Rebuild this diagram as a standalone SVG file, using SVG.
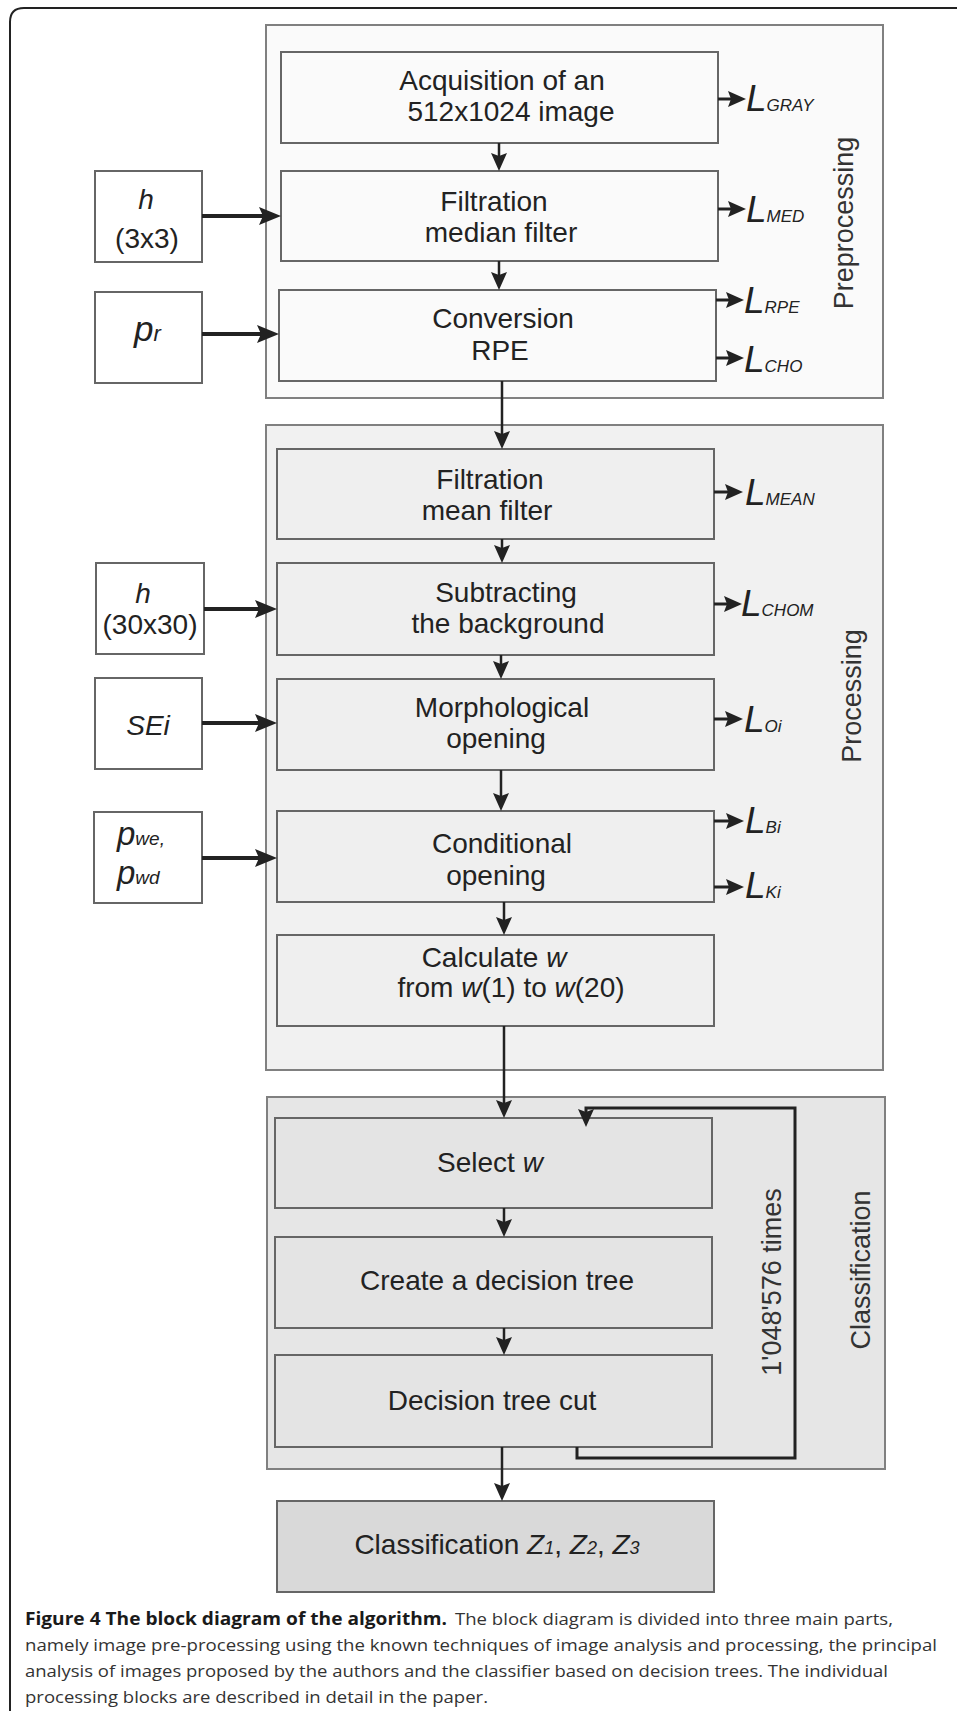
<svg xmlns="http://www.w3.org/2000/svg" width="957" height="1711" viewBox="0 0 957 1711">
<defs>
<style>
.t{font-family:"Liberation Sans",Arial,sans-serif;font-size:28px;fill:#222;text-anchor:middle}
.it{font-style:italic}
.lab{font-family:"Liberation Sans",Arial,sans-serif;font-style:italic;fill:#222}
.L{font-size:37px}
.s{font-size:17px}
.vt{font-family:"Liberation Sans",Arial,sans-serif;font-size:27px;fill:#333;text-anchor:middle}
.cont{stroke:#808080;stroke-width:2}
.box{stroke:#666;stroke-width:2}
.pre{fill:#fafafa}
.proc{fill:#f1f1f1}
.cls{fill:#e6e6e6}
.bproc{fill:#efefef}
.bcls{fill:#e4e4e4}
.fin{fill:#d9d9d9}
.in{fill:#fff}
.c{fill:none;stroke:#222;stroke-width:2.5}
.ci{fill:none;stroke:#222;stroke-width:4}
.co{fill:none;stroke:#222;stroke-width:3}
.cap{font-family:"Open Sans","Noto Sans",sans-serif;font-size:17px;fill:#333}
.capb{font-family:"Open Sans","Noto Sans",sans-serif;font-size:17px;font-weight:bold;fill:#1a1a1a}
</style>
<marker id="ah" markerUnits="userSpaceOnUse" viewBox="0 0 18 16" markerWidth="18" markerHeight="16" refX="10" refY="8" orient="auto">
<path d="M0,0 L18,8 L0,16 L3,8 Z" fill="#222"/>
</marker>
<marker id="ahl" markerUnits="userSpaceOnUse" viewBox="0 0 22 18" markerWidth="22" markerHeight="18" refX="12" refY="9" orient="auto">
<path d="M0,0 L22,9 L0,18 L4,9 Z" fill="#222"/>
</marker>
</defs>
<rect width="957" height="1711" fill="#fff"/>
<path d="M10,1711 V22 Q10,8 24,8 H957" fill="none" stroke="#222" stroke-width="2"/>

<g id="preprocessing">
<rect class="cont pre" x="266" y="25" width="617" height="373"/>
<text class="vt" transform="translate(853,223) rotate(-90)">Preprocessing</text>
</g>
<g id="processing">
<rect class="cont proc" x="266" y="425" width="617" height="645"/>
<text class="vt" transform="translate(861,696) rotate(-90)">Processing</text>
</g>
<g id="classification">
<rect class="cont cls" x="267" y="1097" width="618" height="372"/>
<text class="vt" transform="translate(870,1270) rotate(-90)">Classification</text>
</g>

<g id="acquisition">
<rect class="box pre" x="281" y="52" width="437" height="91"/>
<text class="t" x="502" y="90">Acquisition of an</text>
<text class="t" x="511" y="121">512x1024 image</text>
</g>
<g id="median">
<rect class="box pre" x="281" y="171" width="437" height="90"/>
<text class="t" x="494" y="211">Filtration</text>
<text class="t" x="501" y="242">median filter</text>
</g>
<g id="conversion">
<rect class="box pre" x="279" y="290" width="437" height="91"/>
<text class="t" x="503" y="328">Conversion</text>
<text class="t" x="500" y="360">RPE</text>
</g>
<g id="mean">
<rect class="box bproc" x="277" y="449" width="437" height="90"/>
<text class="t" x="490" y="489">Filtration</text>
<text class="t" x="487" y="520">mean filter</text>
</g>
<g id="subtract">
<rect class="box bproc" x="277" y="563" width="437" height="92"/>
<text class="t" x="506" y="602">Subtracting</text>
<text class="t" x="508" y="633">the background</text>
</g>
<g id="morph">
<rect class="box bproc" x="277" y="679" width="437" height="91"/>
<text class="t" x="502" y="717">Morphological</text>
<text class="t" x="496" y="748">opening</text>
</g>
<g id="conditional">
<rect class="box bproc" x="277" y="811" width="437" height="91"/>
<text class="t" x="502" y="853">Conditional</text>
<text class="t" x="496" y="885">opening</text>
</g>
<g id="calculate">
<rect class="box bproc" x="277" y="935" width="437" height="91"/>
<text class="t" x="494" y="967">Calculate <tspan class="it">w</tspan></text>
<text class="t" x="511" y="997">from <tspan class="it">w</tspan>(1) to <tspan class="it">w</tspan>(20)</text>
</g>
<g id="select">
<rect class="box bcls" x="275" y="1118" width="437" height="90"/>
<text class="t" x="490" y="1172">Select <tspan class="it">w</tspan></text>
</g>
<g id="create">
<rect class="box bcls" x="275" y="1237" width="437" height="91"/>
<text class="t" x="497" y="1290">Create a decision tree</text>
</g>
<g id="cut">
<rect class="box bcls" x="275" y="1355" width="437" height="92"/>
<text class="t" x="492" y="1410">Decision tree cut</text>
</g>
<g id="result">
<rect class="box fin" x="277" y="1501" width="437" height="91"/>
<text class="t" x="497" y="1554">Classification <tspan class="it">Z</tspan><tspan class="it" font-size="18">1</tspan>, <tspan class="it">Z</tspan><tspan class="it" font-size="18">2</tspan>, <tspan class="it">Z</tspan><tspan class="it" font-size="18">3</tspan></text>
</g>

<g id="in-h3">
<rect class="box in" x="95" y="171" width="107" height="91"/>
<text class="t it" x="146" y="209" font-size="31">h</text>
<text class="t" x="147" y="248" font-size="34">(3x3)</text>
</g>
<g id="in-pr">
<rect class="box in" x="95" y="292" width="107" height="91"/>
<text class="lab" x="134" y="341" font-size="35">p<tspan font-size="22">r</tspan></text>
</g>
<g id="in-h30">
<rect class="box in" x="96" y="563" width="108" height="91"/>
<text class="t it" x="143" y="603" font-size="31">h</text>
<text class="t" x="150" y="634" font-size="29">(30x30)</text>
</g>
<g id="in-sei">
<rect class="box in" x="95" y="678" width="107" height="91"/>
<text class="t it" x="148" y="735" font-size="32">SEi</text>
</g>
<g id="in-pw">
<rect class="box in" x="94" y="812" width="108" height="91"/>
<text class="lab" x="117" y="845" font-size="33">p<tspan font-size="19">we,</tspan></text>
<text class="lab" x="117" y="884" font-size="33">p<tspan font-size="19">wd</tspan></text>
</g>

<g id="out-labels">
<text class="lab" x="746" y="111"><tspan class="L">L</tspan><tspan class="s">GRAY</tspan></text>
<text class="lab" x="746" y="222"><tspan class="L">L</tspan><tspan class="s">MED</tspan></text>
<text class="lab" x="744" y="313"><tspan class="L">L</tspan><tspan class="s">RPE</tspan></text>
<text class="lab" x="744" y="372"><tspan class="L">L</tspan><tspan class="s">CHO</tspan></text>
<text class="lab" x="745" y="505"><tspan class="L">L</tspan><tspan class="s">MEAN</tspan></text>
<text class="lab" x="741" y="616"><tspan class="L">L</tspan><tspan class="s">CHOM</tspan></text>
<text class="lab" x="744" y="732"><tspan class="L">L</tspan><tspan class="s">Oi</tspan></text>
<text class="lab" x="745" y="833"><tspan class="L">L</tspan><tspan class="s">Bi</tspan></text>
<text class="lab" x="745" y="898"><tspan class="L">L</tspan><tspan class="s">Ki</tspan></text>
</g>

<g id="loop-label">
<text class="vt" transform="translate(781,1282) rotate(-90)">1'048'576 times</text>
</g>

<g id="connectors">
<path class="c" d="M499,143 V163" marker-end="url(#ah)"/>
<path class="c" d="M499,261 V282" marker-end="url(#ah)"/>
<path class="c" d="M502,381 V441" marker-end="url(#ah)"/>
<path class="c" d="M502,539 V555" marker-end="url(#ah)"/>
<path class="c" d="M501,655 V671" marker-end="url(#ah)"/>
<path class="c" d="M501,770 V803" marker-end="url(#ah)"/>
<path class="c" d="M504,902 V927" marker-end="url(#ah)"/>
<path class="c" d="M504,1026 V1110" marker-end="url(#ah)"/>
<path class="c" d="M504,1208 V1229" marker-end="url(#ah)"/>
<path class="c" d="M504,1328 V1347" marker-end="url(#ah)"/>
<path class="c" d="M502,1447 V1493" marker-end="url(#ah)"/>
<path class="co" d="M577,1447 V1458 H795 V1108 H586 V1119" marker-end="url(#ah)"/>
<path class="ci" d="M202,216 H271" marker-end="url(#ahl)"/>
<path class="ci" d="M202,334 H269" marker-end="url(#ahl)"/>
<path class="ci" d="M204,609 H267" marker-end="url(#ahl)"/>
<path class="ci" d="M202,723 H267" marker-end="url(#ahl)"/>
<path class="ci" d="M202,858 H267" marker-end="url(#ahl)"/>
<path class="co" d="M718,99 H738" marker-end="url(#ah)"/>
<path class="co" d="M718,209 H738" marker-end="url(#ah)"/>
<path class="co" d="M716,300 H736" marker-end="url(#ah)"/>
<path class="co" d="M716,358 H736" marker-end="url(#ah)"/>
<path class="co" d="M714,492 H735" marker-end="url(#ah)"/>
<path class="co" d="M714,604 H734" marker-end="url(#ah)"/>
<path class="co" d="M714,719 H735" marker-end="url(#ah)"/>
<path class="co" d="M714,821 H736" marker-end="url(#ah)"/>
<path class="co" d="M714,887 H736" marker-end="url(#ah)"/>
</g>

<g id="caption">
<text class="capb" x="25" y="1625" textLength="422" lengthAdjust="spacingAndGlyphs">Figure 4 The block diagram of the algorithm.</text>
<text class="cap" x="455" y="1625" textLength="438" lengthAdjust="spacingAndGlyphs">The block diagram is divided into three main parts,</text>
<text class="cap" x="25" y="1651" textLength="912" lengthAdjust="spacingAndGlyphs">namely image pre-processing using the known techniques of image analysis and processing, the principal</text>
<text class="cap" x="25" y="1677" textLength="863" lengthAdjust="spacingAndGlyphs">analysis of images proposed by the authors and the classifier based on decision trees. The individual</text>
<text class="cap" x="25" y="1703" textLength="463" lengthAdjust="spacingAndGlyphs">processing blocks are described in detail in the paper.</text>
</g>
</svg>
